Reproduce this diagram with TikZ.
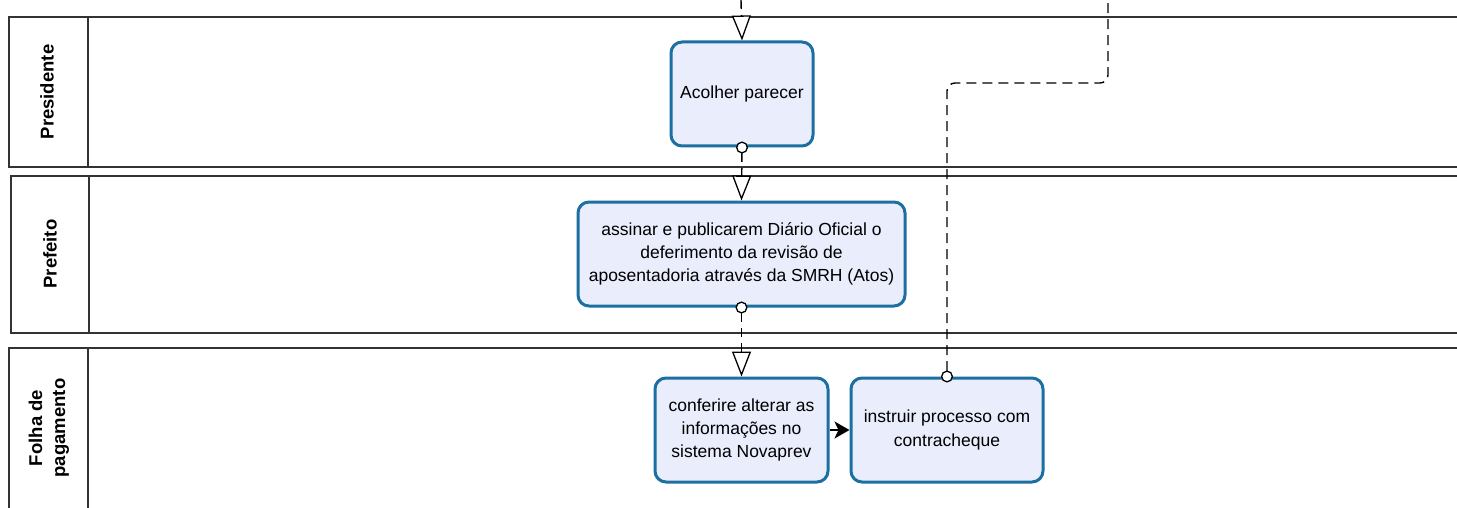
\documentclass[tikz,border=0pt]{standalone}
\usepackage{fontspec}
\setmainfont{Liberation Sans}
\usetikzlibrary{arrows.meta}
\definecolor{boxfill}{HTML}{E9EDFC}
\definecolor{boxline}{HTML}{1C6FA1}
\definecolor{laneline}{HTML}{333333}
\tikzset{
  lane/.style={draw=laneline, line width=2pt},
  lanelabel/.style={rotate=90, font=\fontsize{18.5}{23}\selectfont\bfseries, align=center},
  task/.style={draw=boxline, fill=boxfill, line width=3pt, rounded corners=11pt,
    align=center, inner sep=0pt, minimum height=104pt,
    font=\fontsize{17.5}{23.3}\selectfont},
  msgflow/.style={draw=black, line width=1.4pt, dash pattern=on 9pt off 6pt,
    {Circle[fill=white, length=12pt, line width=1.3pt]}-{Triangle[fill=white, length=25pt, width=19pt, line width=1.3pt]},
    shorten <=-6pt},
  msgin/.style={draw=black, line width=1.4pt, dash pattern=on 9pt off 6pt,
    -{Triangle[fill=white, length=25pt, width=19pt, line width=1.3pt]}},
  msgout/.style={draw=black, line width=1.4pt, dash pattern=on 10pt off 6pt,
    {Circle[fill=white, length=12pt, line width=1.3pt]}-, shorten <=-6pt, rounded corners=8pt},
  seqflow/.style={draw=black, line width=2pt, -{Stealth[length=15pt, width=17pt, inset=4pt]}}
}
\begin{document}
\begin{tikzpicture}[x=1pt, y=-1pt]
\useasboundingbox (0,0) rectangle (1457,508);
\fill[white] (0,0) rectangle (1457,508);
\begin{scope}
\clip (0,0) rectangle (1457,508);
% lanes
\draw[lane] (1470,17) -- (9,17) -- (9,167) -- (1470,167);
\draw[lane] (88,17) -- (88,167);
\draw[lane] (1470,176.5) -- (10.5,176.5) -- (10.5,332.5) -- (1470,332.5);
\draw[lane] (89,176.5) -- (89,332.5);
\draw[lane] (1470,347.5) -- (9,347.5) -- (9,520);
\draw[lane] (88,347.5) -- (88,520);
\end{scope}
\node[lanelabel] (lp) at (47,92) {Presidente};
\node[lanelabel] (lf) at (50,254) {Prefeito};
\node[lanelabel] (lg) at (49,428) {Folha de\\pagamento};
% tasks
\node[task, minimum width=142pt] (t1) at (742,94) {Acolher parecer};
\node[task, minimum width=327pt] (t2) at (741.5,254) {assinar e publicarem Diário Oficial o\\deferimento da revisão de\\aposentadoria através da SMRH (Atos)};
\node[task, minimum width=173pt] (t3) at (741.5,430) {conferire alterar as\\informações no\\sistema Novaprev};
\node[task, minimum width=192pt] (t4) at (947,430) {instruir processo com\\contracheque};
% connectors
\coordinate (topin) at (741,0);
\coordinate (topout) at (1108,0);
\draw[msgin] (topin) -- (t1.north);
\draw[msgflow] (t1.south) -- (t2.north);
\draw[msgflow] (t2.south) -- (t3.north);
\draw[seqflow] (t3.east) -- (t4.east -| t4.west);
\draw[msgout] (t4.north) -- (947,83) -- (1108,83) -- (topout);
\end{tikzpicture}
\end{document}
